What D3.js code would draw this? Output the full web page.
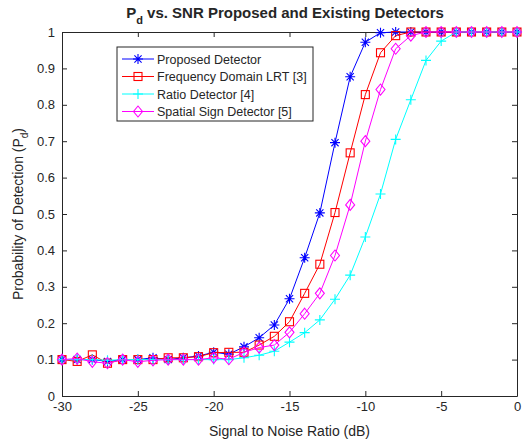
<html>
<head>
<meta charset="utf-8">
<script src="https://d3js.org/d3.v7.min.js"></script>
<style>
body { margin: 0; background: #fff; font-family: 'Liberation Sans', Arial, sans-serif; }
svg text { fill: #262626; }
</style>
</head>
<body>
<div id="chart"></div>
<script>
// SNR values (dB)
var snr = d3.range(-30, 1, 1);

var proposed = [0.10, 0.10, 0.10, 0.095, 0.10, 0.10, 0.105, 0.10, 0.105, 0.11,
  0.12, 0.115, 0.135, 0.16, 0.195, 0.267, 0.38, 0.503, 0.696, 0.877,
  0.972, 0.998, 1, 1, 1, 1, 1, 1, 1, 1, 1];
var freqLRT = [0.10, 0.095, 0.113, 0.09, 0.10, 0.10, 0.10, 0.105, 0.105, 0.108,
  0.119, 0.12, 0.12, 0.14, 0.164, 0.204, 0.282, 0.362, 0.504, 0.668,
  0.828, 0.943, 0.99, 1, 1, 1, 1, 1, 1, 1, 1];
var ratio = [0.10, 0.10, 0.10, 0.098, 0.10, 0.10, 0.10, 0.10, 0.10, 0.10,
  0.10, 0.10, 0.105, 0.112, 0.123, 0.148, 0.174, 0.209, 0.266, 0.332,
  0.437, 0.555, 0.705, 0.814, 0.922, 0.975, 1, 1, 1, 1, 1];
var spatial = [0.10, 0.103, 0.094, 0.09, 0.10, 0.094, 0.098, 0.10, 0.10, 0.10,
  0.105, 0.101, 0.12, 0.133, 0.14, 0.175, 0.226, 0.282, 0.386, 0.525,
  0.70, 0.842, 0.954, 0.99, 1, 1, 1, 1, 1, 1, 1];

var seriesNames = ["Proposed Detector", "Frequency Domain LRT [3]", "Ratio Detector [4]", "Spatial Sign Detector [5]"];
var seriesColors = ["#0000ff", "#ff0000", "#00ffff", "#ff00ff"];
var seriesMarkers = ["asterisk", "square", "plus", "diamond"];
var seriesValues = [proposed, freqLRT, ratio, spatial];

var xTicks = [-30, -25, -20, -15, -10, -5, 0];
var yTicks = [0, 0.1, 0.2, 0.3, 0.4, 0.5, 0.6, 0.7, 0.8, 0.9, 1];

var W = 529, H = 447;
var margin = {top: 32, right: 12, bottom: 51, left: 62};
var width = W - margin.left - margin.right,
    height = H - margin.top - margin.bottom;

var svg = d3.select("#chart").append("svg").attr("width", W).attr("height", H);
var g = svg.append("g").attr("transform", "translate(" + margin.left + "," + margin.top + ")");

var x = d3.scaleLinear().domain([-30, 0]).range([0, width]);
var y = d3.scaleLinear().domain([0, 1]).range([height, 0]);

// plain hyphen instead of unicode minus
function fmt(d) { return String(d); }

// axes, ticks pointing inward like matlab
function styleAxis(sel) {
  sel.select(".domain").attr("stroke", "#262626");
  sel.selectAll(".tick line").attr("stroke", "#262626");
  sel.selectAll("text").style("font-size", "13px").style("font-family", "'Liberation Sans', Arial, sans-serif").attr("fill", "#262626");
}

g.append("g").attr("transform", "translate(0," + height + ")")
  .call(d3.axisBottom(x).tickValues(xTicks).tickSize(-5).tickSizeOuter(0).tickPadding(6).tickFormat(fmt))
  .call(styleAxis);
g.append("g")
  .call(d3.axisTop(x).tickValues(xTicks).tickSize(-5).tickSizeOuter(0).tickFormat(""))
  .call(styleAxis);
g.append("g")
  .call(d3.axisLeft(y).tickValues(yTicks).tickSize(-5).tickSizeOuter(0).tickPadding(7).tickFormat(fmt))
  .call(styleAxis);
g.append("g").attr("transform", "translate(" + width + ",0)")
  .call(d3.axisRight(y).tickValues(yTicks).tickSize(-5).tickSizeOuter(0).tickFormat(""))
  .call(styleAxis);

// markers
function drawMarker(sel, type, color) {
  if (type == "asterisk") {
    var r = 5, s = 3.6;
    sel.append("path").attr("d", "M" + (-r) + ",0L" + r + ",0M0," + (-r) + "L0," + r +
      "M" + (-s) + "," + (-s) + "L" + s + "," + s + "M" + (-s) + "," + s + "L" + s + "," + (-s))
      .attr("stroke", color).attr("stroke-width", 1.1).attr("fill", "none");
  } else if (type == "square") {
    sel.append("rect").attr("x", -4).attr("y", -4).attr("width", 8).attr("height", 8)
      .attr("stroke", color).attr("stroke-width", 1.1).attr("fill", "none");
  } else if (type == "plus") {
    sel.append("path").attr("d", "M-5,0L5,0M0,-5L0,5")
      .attr("stroke", color).attr("stroke-width", 1.1).attr("fill", "none");
  } else {
    sel.append("path").attr("d", "M0,-5.5L4.5,0L0,5.5L-4.5,0Z")
      .attr("stroke", color).attr("stroke-width", 1.1).attr("fill", "none");
  }
}

var line = d3.line().x(function(d) { return x(d[0]); }).y(function(d) { return y(d[1]); });

seriesValues.forEach(function(vals, i) {
  var pts = snr.map(function(s, k) { return [s, vals[k]]; });
  g.append("path").datum(pts).attr("d", line)
    .attr("fill", "none").attr("stroke", seriesColors[i]).attr("stroke-width", 1);
  pts.forEach(function(p) {
    var m = g.append("g").attr("transform", "translate(" + x(p[0]) + "," + y(p[1]) + ")");
    drawMarker(m, seriesMarkers[i], seriesColors[i]);
  });
});

// legend
var leg = svg.append("g").attr("transform", "translate(117,47)");
leg.append("rect").attr("width", 196).attr("height", 74)
  .attr("fill", "#fff").attr("stroke", "#262626").attr("stroke-width", 1);
seriesNames.forEach(function(name, i) {
  var yy = 12 + i * 17.5;
  leg.append("line").attr("x1", 5).attr("x2", 37).attr("y1", yy).attr("y2", yy)
    .attr("stroke", seriesColors[i]).attr("stroke-width", 1);
  var m = leg.append("g").attr("transform", "translate(21," + yy + ")");
  drawMarker(m, seriesMarkers[i], seriesColors[i]);
  leg.append("text").attr("x", 40).attr("y", yy + 4.5)
    .style("font-size", "12.5px").text(name);
});

// title
var title = svg.append("text").attr("x", 285).attr("y", 18)
  .attr("text-anchor", "middle").style("font-size", "15px").style("font-weight", "bold");
title.append("tspan").text("P");
title.append("tspan").attr("dy", 6).style("font-size", "11px").text("d");
title.append("tspan").attr("dy", -6).text(" vs. SNR Proposed and Existing Detectors");

// axis labels
svg.append("text").attr("x", margin.left + width / 2).attr("y", 436)
  .attr("text-anchor", "middle").style("font-size", "14px").text("Signal to Noise Ratio (dB)");

var yl = svg.append("text").attr("transform", "translate(23," + (margin.top + height / 2) + ") rotate(-90)")
  .attr("text-anchor", "middle").style("font-size", "14px");
yl.append("tspan").text("Probability of Detection (P");
yl.append("tspan").attr("dy", 5).style("font-size", "10px").text("d");
yl.append("tspan").attr("dy", -5).text(")");
</script>
</body>
</html>
